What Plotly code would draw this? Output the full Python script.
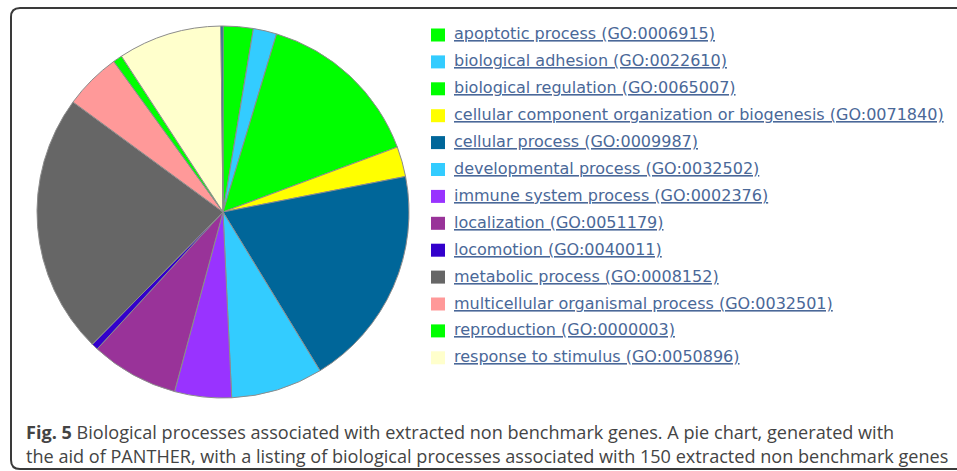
import plotly.graph_objects as go

W, H = 957, 471

# PANTHER biological process categories (gene counts)
labels = [
    'apoptotic process (GO:0006915)',
    'biological adhesion (GO:0022610)',
    'biological regulation (GO:0065007)',
    'cellular component organization or biogenesis (GO:0071840)',
    'cellular process (GO:0009987)',
    'developmental process (GO:0032502)',
    'immune system process (GO:0002376)',
    'localization (GO:0051179)',
    'locomotion (GO:0040011)',
    'metabolic process (GO:0008152)',
    'multicellular organismal process (GO:0032501)',
    'reproduction (GO:0000003)',
    'response to stimulus (GO:0050896)',
    'other',
]
counts = [3.6, 2.8, 20.2, 3.6, 26.6, 11.0, 6.8, 10.5, 0.8, 31.2, 6.8, 1.1, 12.4, 0.25]
colors = ['#00ff00', '#33ccff', '#00ff00', '#ffff00', '#006699', '#33ccff', '#9933ff',
          '#993399', '#3300cc', '#666666', '#ff9999', '#00ff00', '#ffffcc', '#006699']
n_legend = 13  # the last sliver has no visible legend row

caption_1 = '<b>Fig. 5</b> Biological processes associated with extracted non benchmark genes. A pie chart, generated with'
caption_2 = 'the aid of PANTHER, with a listing of biological processes associated with 150 extracted non benchmark genes'


def px(x):
    return x / W


def py(y):
    return 1 - y / H


def rounded_box(x0, y0, x1, y1, r):
    # SVG path in paper coords for a rounded rectangle given in pixels
    pts = [
        f'M {px(x0 + r)} {py(y0)}', f'L {px(x1 - r)} {py(y0)}',
        f'Q {px(x1)} {py(y0)} {px(x1)} {py(y0 + r)}', f'L {px(x1)} {py(y1 - r)}',
        f'Q {px(x1)} {py(y1)} {px(x1 - r)} {py(y1)}', f'L {px(x0 + r)} {py(y1)}',
        f'Q {px(x0)} {py(y1)} {px(x0)} {py(y1 - r)}', f'L {px(x0)} {py(y0 + r)}',
        f'Q {px(x0)} {py(y0)} {px(x0 + r)} {py(y0)}', 'Z',
    ]
    return ' '.join(pts)


fig = go.Figure()

# pie
cx, cy, rad = 223, 212, 186
fig.add_trace(go.Pie(
    labels=labels, values=counts, sort=False, direction='clockwise', rotation=0,
    marker=dict(colors=colors, line=dict(color='#8c8c8c', width=1)),
    textinfo='none', hoverinfo='label+value', showlegend=False,
    domain=dict(x=[px(cx - rad), px(cx + rad)], y=[py(cy + rad), py(cy - rad)]),
))

shapes = [dict(type='path', path=rounded_box(11, 8, 990, 469, 9), xref='paper', yref='paper',
               line=dict(color='#3a3a3a', width=2), layer='above')]
annotations = []

# legend rows
row0, step = 35, 26.9
for i in range(n_legend):
    yc = row0 + i * step
    shapes.append(dict(type='rect', xref='paper', yref='paper',
                       x0=px(431), x1=px(445), y0=py(yc + 6.5), y1=py(yc - 6.5),
                       fillcolor=colors[i], line=dict(width=0)))
    annotations.append(dict(
        text=f'<u>{labels[i]}</u>', x=px(452), y=py(yc - 1), xref='paper', yref='paper',
        xanchor='left', yanchor='middle', showarrow=False,
        font=dict(family='DejaVu Sans', size=16, color='#4a6898'),
    ))

# caption
for txt, yc in [(caption_1, 432), (caption_2, 456)]:
    annotations.append(dict(
        text=txt, x=px(24), y=py(yc), xref='paper', yref='paper',
        xanchor='left', yanchor='middle', showarrow=False,
        font=dict(family='Open Sans', size=18.1, color='#444444'),
    ))

fig.update_layout(
    width=W, height=H,
    margin=dict(l=0, r=0, t=0, b=0),
    paper_bgcolor='white', plot_bgcolor='white',
    shapes=shapes, annotations=annotations,
)

# drop the default page margin so the figure sits at the window's corner
fig.write_html('out.html', config={'displayModeBar': False},
               post_script="document.body.style.margin='0px';")
